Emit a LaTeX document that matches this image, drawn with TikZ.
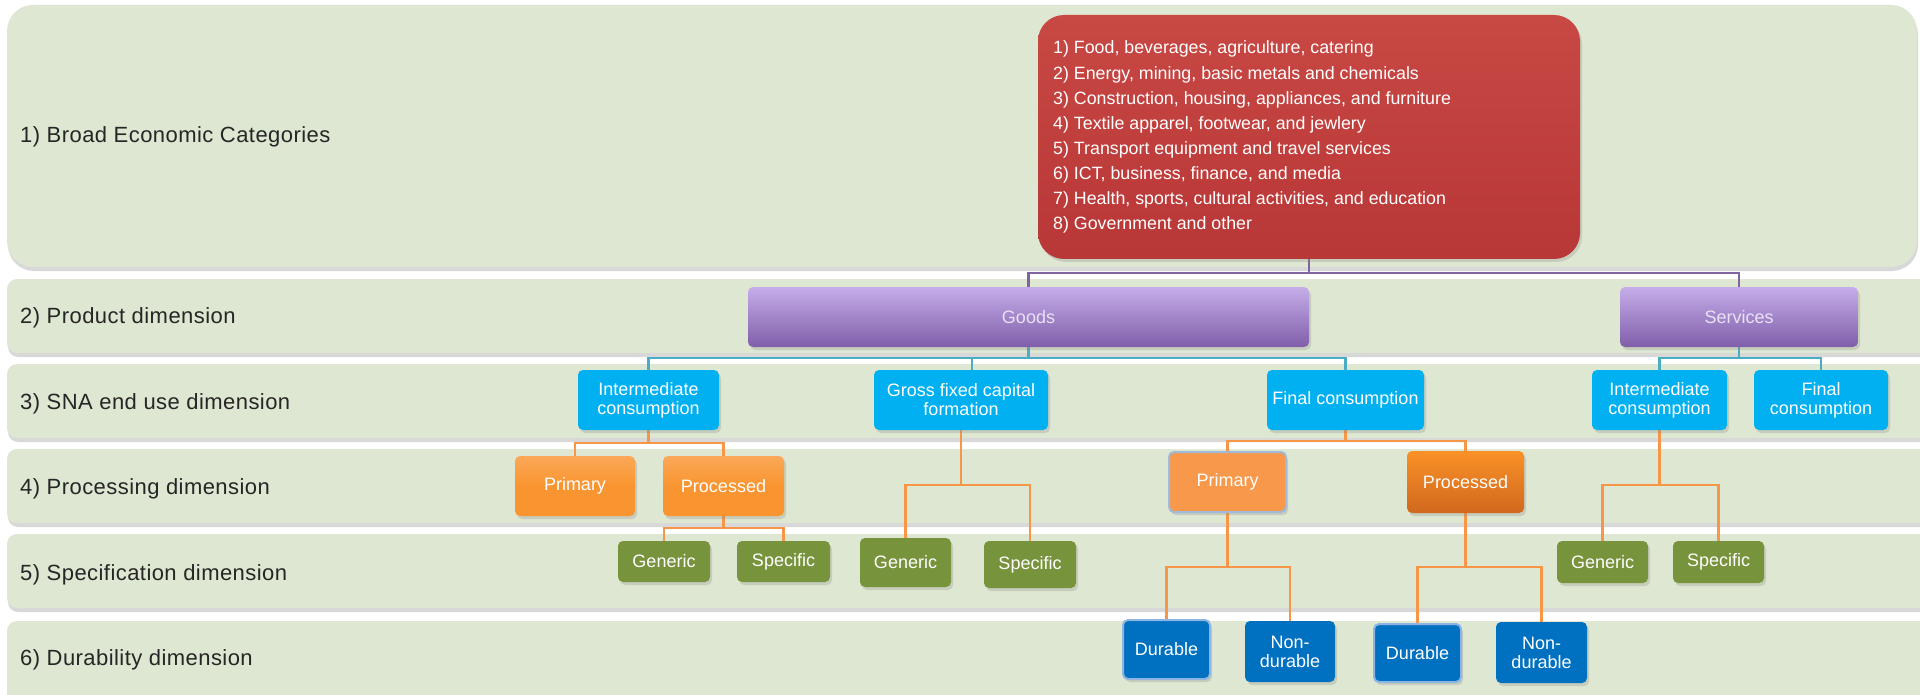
\documentclass[tikz,border=0pt]{standalone}
\usepackage{fontspec}
\setmainfont{Liberation Sans}
\newfontfamily\labelfont[LetterSpace=2.0]{Liberation Sans}
\usetikzlibrary{shadows}
\definecolor{bandc}{RGB}{222,231,209}
\definecolor{lblc}{RGB}{38,38,38}
\definecolor{redT}{RGB}{200,72,68}
\definecolor{redB}{RGB}{184,55,55}
\definecolor{purpT}{RGB}{197,173,233}
\definecolor{purpB}{RGB}{128,94,170}
\definecolor{goodstext}{RGB}{232,226,244}
\definecolor{snac}{RGB}{0,176,240}
\definecolor{tealc}{RGB}{75,172,198}
\definecolor{purpc}{RGB}{128,100,162}
\definecolor{orc}{RGB}{247,150,70}
\definecolor{orboxT}{RGB}{251,168,88}
\definecolor{orbox}{RGB}{249,149,48}
\definecolor{prim2c}{RGB}{247,152,75}
\definecolor{prim2b}{RGB}{160,186,218}
\definecolor{proc2T}{RGB}{250,145,40}
\definecolor{proc2B}{RGB}{208,104,30}
\definecolor{greenc}{RGB}{119,147,60}
\definecolor{dblue}{RGB}{0,112,192}
\definecolor{dborder}{RGB}{141,180,226}
\pgfdeclarelayer{bands}
\pgfdeclarelayer{links}
\pgfsetlayers{bands,links,main}
\begin{document}
\begin{tikzpicture}[x=1pt,y=-1pt,
  band/.style={fill=bandc, drop shadow={shadow xshift=1pt, shadow yshift=-4pt, opacity=0.3}},
  lbl/.style={anchor=base west, inner sep=0pt, text=lblc, font=\labelfont\fontsize{22}{26}\selectfont},
  box/.style={rectangle, rounded corners=5pt, inner sep=2pt, align=center, text=white,
    font=\fontsize{18}{19}\selectfont, drop shadow={shadow xshift=2pt, shadow yshift=-3pt, opacity=0.25}},
  redbox/.style={box, rounded corners=26pt, top color=redT, bottom color=redB},
  bectext/.style={anchor=base west, inner sep=0pt, text=white, font=\fontsize{17.8}{20}\selectfont},
  purpbox/.style={box, top color=purpT, bottom color=purpB, text=goodstext},
  snabox/.style={box, fill=snac},
  orbox/.style={box, top color=orboxT, bottom color=orbox, middle color=orbox},
  prim2box/.style={box, fill=prim2c, draw=prim2b, line width=2pt},
  proc2box/.style={box, top color=proc2T, bottom color=proc2B},
  grbox/.style={box, fill=greenc},
  durbox/.style={box, fill=dblue, draw=dborder, line width=2pt},
  ndbox/.style={box, fill=dblue},
  purpline/.style={draw=purpc, line width=2.5pt},
  tealline/.style={draw=tealc, line width=2.5pt},
  orline/.style={draw=orc, line width=2.5pt}
]
\useasboundingbox (0,0) rectangle (1920,695);

% bands
\begin{pgfonlayer}{bands}
\begin{scope}
\clip (0,0) rectangle (1920,695);
\fill[white] (0,0) rectangle (1920,695);
\path[band, rounded corners=26pt] (7,5) rectangle (1917,267);
\path[band, rounded corners=10pt] (7,279) rectangle (1945,353);
\path[band, rounded corners=10pt] (7,364) rectangle (1945,438);
\path[band, rounded corners=10pt] (7,449) rectangle (1945,523);
\path[band, rounded corners=10pt] (7,534) rectangle (1945,608);
\path[band, rounded corners=10pt] (7,621) rectangle (1945,730);
\end{scope}
\end{pgfonlayer}

% band labels
\node[lbl] (l1) at (20,142.7) {1) Broad Economic Categories};
\node[lbl] (l2) at (20,323) {2) Product dimension};
\node[lbl] (l3) at (20,409) {3) SNA end use dimension};
\node[lbl] (l4) at (20,494) {4) Processing dimension};
\node[lbl] (l5) at (20,580) {5) Specification dimension};
\node[lbl] (l6) at (20,665) {6) Durability dimension};

% level 1
\node[redbox, minimum width=542pt, minimum height=244pt] (bec) at (1309,137) {};
\node[bectext] (c1) at (1053,54) {1) Food, beverages, agriculture, catering};
\node[bectext] (c2) at (1053,79.1) {2) Energy, mining, basic metals and chemicals};
\node[bectext] (c3) at (1053,104.3) {3) Construction, housing, appliances, and furniture};
\node[bectext] (c4) at (1053,129.4) {4) Textile apparel, footwear, and jewlery};
\node[bectext] (c5) at (1053,154.6) {5) Transport equipment and travel services};
\node[bectext] (c6) at (1053,179.7) {6) ICT, business, finance, and media};
\node[bectext] (c7) at (1053,204.8) {7) Health, sports, cultural activities, and education};
\node[bectext] (c8) at (1053,230) {8) Government and other};

% level 2
\node[purpbox, minimum width=561pt, minimum height=60pt] (goods) at (1028.5,317) {Goods};
\node[purpbox, minimum width=238pt, minimum height=60pt] (services) at (1739,317) {Services};

% level 3
\node[snabox, minimum width=141pt, minimum height=60pt] (ic1) at (648.5,400) {Intermediate\\consumption};
\node[snabox, minimum width=174pt, minimum height=60pt] (gfcf) at (961,400) {Gross fixed capital\\formation};
\node[snabox, minimum width=157pt, minimum height=60pt] (fc1) at (1345.5,400) {Final consumption};
\node[snabox, minimum width=135pt, minimum height=60pt] (ic2) at (1659.5,400) {Intermediate\\consumption};
\node[snabox, minimum width=134pt, minimum height=60pt] (fc2) at (1821,400) {Final\\consumption};

% level 4
\node[orbox, minimum width=120pt, minimum height=60pt] (prim1) at (575,486) {Primary};
\node[orbox, minimum width=121pt, minimum height=60pt] (proc1) at (723.5,486) {Processed};
\node[prim2box, minimum width=117pt, minimum height=60pt] (prim2) at (1227.5,482) {Primary};
\node[proc2box, minimum width=117pt, minimum height=62pt] (proc2) at (1465.5,482) {Processed};

% level 5
\node[grbox, minimum width=92pt, minimum height=41pt] (gen1) at (664,561.5) {Generic};
\node[grbox, minimum width=93pt, minimum height=41pt] (spec1) at (783.5,561.5) {Specific};
\node[grbox, minimum width=91pt, minimum height=49pt] (gen2) at (905.5,562.5) {Generic};
\node[grbox, minimum width=92pt, minimum height=47pt] (spec2) at (1030,564.5) {Specific};
\node[grbox, minimum width=91pt, minimum height=42pt] (gen3) at (1602.5,562) {Generic};
\node[grbox, minimum width=91pt, minimum height=42pt] (spec3) at (1718.5,562) {Specific};

% level 6
\node[durbox, minimum width=87pt, minimum height=59pt] (dur1) at (1166.5,649.5) {Durable};
\node[ndbox, minimum width=90pt, minimum height=61pt] (nd1) at (1290,651.5) {Non-\\durable};
\node[durbox, minimum width=87pt, minimum height=58pt] (dur2) at (1417.5,653) {Durable};
\node[ndbox, minimum width=91pt, minimum height=61pt] (nd2) at (1541.5,652.5) {Non-\\durable};

% connectors
\coordinate (pbus) at (0,273);
\coordinate (tbus) at (0,358);
\coordinate (b4a) at (0,443);
\coordinate (b4b) at (0,441);
\coordinate (b5a) at (0,528);
\coordinate (b5b) at (0,485);
\coordinate (b6a) at (0,567);
\coordinate (gtop) at ([xshift=11pt]gfcf.north);
\begin{pgfonlayer}{links}
\draw[purpline] (bec.south) -- (bec.south |- pbus);
\draw[purpline] (goods.north) -- (goods.north |- pbus) -- (services.north |- pbus) -- (services.north);

\draw[tealline] (goods.south) -- (goods.south |- tbus);
\draw[tealline] (ic1.north) -- (ic1.north |- tbus) -- (fc1.north |- tbus) -- (fc1.north);
\draw[tealline] (gtop) -- (gtop |- tbus);
\draw[tealline] (services.south) -- (services.south |- tbus);
\draw[tealline] (ic2.north) -- (ic2.north |- tbus) -- (fc2.north |- tbus) -- (fc2.north);

\draw[orline] (ic1.south) -- (ic1.south |- b4a);
\draw[orline] (prim1.north) -- (prim1.north |- b4a) -- (proc1.north |- b4a) -- (proc1.north);
\draw[orline] (fc1.south) -- (fc1.south |- b4b);
\draw[orline] (prim2.north) -- (prim2.north |- b4b) -- (proc2.north |- b4b) -- (proc2.north);

\draw[orline] (proc1.south) -- (proc1.south |- b5a);
\draw[orline] (gen1.north) -- (gen1.north |- b5a) -- (spec1.north |- b5a) -- (spec1.north);
\draw[orline] (gfcf.south) -- (gfcf.south |- b5b);
\draw[orline] (gen2.north) -- (gen2.north |- b5b) -- (spec2.north |- b5b) -- (spec2.north);
\draw[orline] (ic2.south) -- (ic2.south |- b5b);
\draw[orline] (gen3.north) -- (gen3.north |- b5b) -- (spec3.north |- b5b) -- (spec3.north);

\draw[orline] (prim2.south) -- (prim2.south |- b6a);
\draw[orline] (dur1.north) -- (dur1.north |- b6a) -- (nd1.north |- b6a) -- (nd1.north);
\draw[orline] (proc2.south) -- (proc2.south |- b6a);
\draw[orline] (dur2.north) -- (dur2.north |- b6a) -- (nd2.north |- b6a) -- (nd2.north);
\end{pgfonlayer}
\end{tikzpicture}
\end{document}
